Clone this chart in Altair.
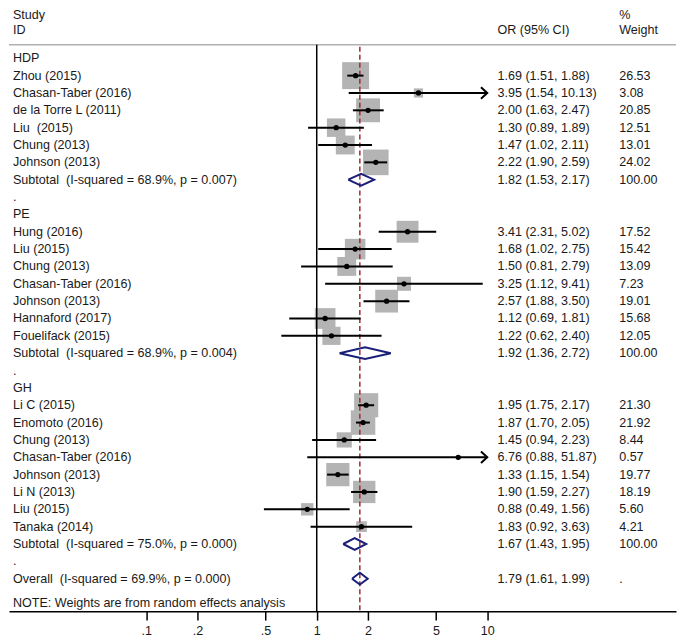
import altair as alt
import pandas as pd

# ---------------- data ----------------
group_names = ["HDP", "PE", "GH"]

hdp_studies = ["Zhou (2015)", "Chasan-Taber (2016)", "de la Torre L (2011)", "Liu\u00a0 (2015)",
               "Chung (2013)", "Johnson (2013)"]
hdp_or = [1.69, 3.95, 2.00, 1.30, 1.47, 2.22]
hdp_lo = [1.51, 1.54, 1.63, 0.89, 1.02, 1.90]
hdp_hi = [1.88, 10.13, 2.47, 1.89, 2.11, 2.59]
hdp_w = [26.53, 3.08, 20.85, 12.51, 13.01, 24.02]

pe_studies = ["Hung (2016)", "Liu (2015)", "Chung (2013)", "Chasan-Taber (2016)",
              "Johnson (2013)", "Hannaford (2017)", "Fouelifack (2015)"]
pe_or = [3.41, 1.68, 1.50, 3.25, 2.57, 1.12, 1.22]
pe_lo = [2.31, 1.02, 0.81, 1.12, 1.88, 0.69, 0.62]
pe_hi = [5.02, 2.75, 2.79, 9.41, 3.50, 1.81, 2.40]
pe_w = [17.52, 15.42, 13.09, 7.23, 19.01, 15.68, 12.05]

gh_studies = ["Li C (2015)", "Enomoto (2016)", "Chung (2013)", "Chasan-Taber (2016)",
              "Johnson (2013)", "Li N (2013)", "Liu (2015)", "Tanaka (2014)"]
gh_or = [1.95, 1.87, 1.45, 6.76, 1.33, 1.90, 0.88, 1.83]
gh_lo = [1.75, 1.70, 0.94, 0.88, 1.15, 1.59, 0.49, 0.92]
gh_hi = [2.17, 2.05, 2.23, 51.87, 1.54, 2.27, 1.56, 3.63]
gh_w = [21.30, 21.92, 8.44, 0.57, 19.77, 18.19, 5.60, 4.21]

subtotal_labels = ["Subtotal\u00a0 (I-squared = 68.9%, p = 0.007)",
                   "Subtotal\u00a0 (I-squared = 68.9%, p = 0.004)",
                   "Subtotal\u00a0 (I-squared = 75.0%, p = 0.000)"]
subtotal_or = [1.82, 1.92, 1.67]
subtotal_lo = [1.53, 1.36, 1.43]
subtotal_hi = [2.17, 2.72, 1.95]

overall_label = "Overall\u00a0 (I-squared = 69.9%, p = 0.000)"
overall_or = 1.79
overall_lo = 1.61
overall_hi = 1.99

note_text = "NOTE: Weights are from random effects analysis"
tick_values = [0.1, 0.2, 0.5, 1, 2, 5, 10]
x_clip = 10

# ---------------- build tables ----------------
groups = [
    (group_names[0], hdp_studies, hdp_or, hdp_lo, hdp_hi, hdp_w),
    (group_names[1], pe_studies, pe_or, pe_lo, pe_hi, pe_w),
    (group_names[2], gh_studies, gh_or, gh_lo, gh_hi, gh_w),
]

label_rows, study_rows, diamond_rows = [], [], []
r = 0
for gi, (gname, names, ors, los, his, ws) in enumerate(groups):
    label_rows.append({"row": r, "label": gname, "ci": "", "wt": ""})
    r += 1
    for n, o, lo, hi, w in zip(names, ors, los, his, ws):
        label_rows.append({"row": r, "label": n, "ci": f"{o:.2f} ({lo:.2f}, {hi:.2f})", "wt": f"{w:.2f}"})
        study_rows.append({"row": r, "or": o, "lo": lo, "hi": hi, "hi_c": min(hi, x_clip), "w": w})
        r += 1
    so, sl, sh = subtotal_or[gi], subtotal_lo[gi], subtotal_hi[gi]
    label_rows.append({"row": r, "label": subtotal_labels[gi],
                       "ci": f"{so:.2f} ({sl:.2f}, {sh:.2f})", "wt": "100.00"})
    diamond_rows.append((r, so, sl, sh))
    r += 1
    label_rows.append({"row": r, "label": ".", "ci": "", "wt": ""})
    r += 1
label_rows.append({"row": r, "label": overall_label,
                   "ci": f"{overall_or:.2f} ({overall_lo:.2f}, {overall_hi:.2f})", "wt": "."})
diamond_rows.append((r, overall_or, overall_lo, overall_hi))

labels_df = pd.DataFrame(label_rows)
studies_df = pd.DataFrame(study_rows)
arrows_df = studies_df[studies_df["hi"] > x_clip]

half_h = 0.34
poly = []
for k, (row, est, lo, hi) in enumerate(diamond_rows):
    pts = [(lo, row), (est, row - half_h), (hi, row), (est, row + half_h), (lo, row)]
    for j, (xv, yv) in enumerate(pts):
        poly.append({"d": k, "o": j, "x": xv, "y": yv})
poly_df = pd.DataFrame(poly)

# ---------------- encodings ----------------
W, H = 669, 603
FONT = "Liberation Sans"
FS = 12.6
TXT = "#1a1a1a"

xscale = alt.Scale(type="log", domain=[0.01567, 128.0], nice=False)
yscale = alt.Scale(domain=[-2.787, 31.87], reverse=True, nice=False, zero=False)
xaxis = alt.Axis(values=tick_values, title=None, grid=False,
                 labelExpr="datum.value < 1 ? replace(format(datum.value, '.1f'), '0.', '.') : format(datum.value, 'd')",
                 tickSize=9, tickWidth=1.5, tickColor="black", domainColor="black", domainWidth=1.5,
                 labelFontSize=FS, labelFont=FONT, labelColor=TXT, labelPadding=4, labelOverlap=False,
                 labelFlush=False)


def X(field):
    return alt.X(field, type="quantitative", scale=xscale, axis=xaxis)


def Y(field):
    return alt.Y(field, type="quantitative", scale=yscale, axis=None)


one = pd.DataFrame({"k": [0]})

top_rule = alt.Chart(one).mark_rule(color="#b0b0b0", strokeWidth=1.5).encode(
    x=alt.value(0), x2=alt.value(W), y=alt.value(35))

null_line = alt.Chart(one).mark_rule(color="black", strokeWidth=1.5).encode(
    x=alt.datum(1, type="quantitative", scale=xscale, axis=xaxis),
    y=alt.value(35), y2=alt.value(H))

overall_line = alt.Chart(one).mark_rule(color="#9e2a3a", strokeWidth=1.5, strokeDash=[5, 3]).encode(
    x=alt.datum(overall_or, type="quantitative", scale=xscale, axis=xaxis),
    y=alt.value(37), y2=alt.value(H))

squares = alt.Chart(studies_df).mark_square(color="#b4b4b4", opacity=1).encode(
    x=X("or"), y=Y("row"),
    size=alt.Size("w:Q", scale=alt.Scale(domain=[0, 30], range=[0, 825]), legend=None))

ci = alt.Chart(studies_df).mark_rule(color="black", strokeWidth=2).encode(
    x=X("lo"), x2="hi_c", y=Y("row"))

arrows = alt.Chart(arrows_df).mark_point(shape="M-1.1,-1L0,0L-1.1,1", filled=False, color="black",
                                         strokeWidth=2, size=130, opacity=1).encode(
    x=X("hi_c"), y=Y("row"))

dots = alt.Chart(studies_df).mark_circle(color="black", size=28, opacity=1).encode(
    x=X("or"), y=Y("row"))

diamonds = alt.Chart(poly_df).mark_line(color="#1a1f78", strokeWidth=2).encode(
    x=X("x"), y=Y("y"), detail="d:N", order="o:Q")

txt_kw = dict(align="left", baseline="middle", font=FONT, fontSize=FS, color=TXT)
left_txt = alt.Chart(labels_df).mark_text(**txt_kw).encode(x=alt.value(4), y=Y("row"), text="label:N")
ci_txt = alt.Chart(labels_df).mark_text(**txt_kw).encode(x=alt.value(490), y=Y("row"), text="ci:N")
wt_txt = alt.Chart(labels_df).mark_text(**txt_kw).encode(x=alt.value(612), y=Y("row"), text="wt:N")


def fixed_text(s, px, py, baseline="middle"):
    kw = dict(txt_kw)
    kw["baseline"] = baseline
    return alt.Chart(one).mark_text(text=s, **kw).encode(x=alt.value(px), y=alt.value(py))


headers = [
    fixed_text("Study", 4, -1, "top"),
    fixed_text("ID", 4, 20),
    fixed_text("OR (95% CI)", 490, 20),
    fixed_text("%", 612, -1, "top"),
    fixed_text("Weight", 612, 20),
    fixed_text(note_text, 4, 595),
]

chart = alt.layer(
    top_rule, squares, null_line, overall_line, ci, arrows, dots, diamonds,
    left_txt, ci_txt, wt_txt, *headers
).properties(
    width=W, height=H, padding=0, background="white"
).configure_view(stroke="transparent")

chart.save("out.html", embed_options={"renderer": "svg", "actions": False})
